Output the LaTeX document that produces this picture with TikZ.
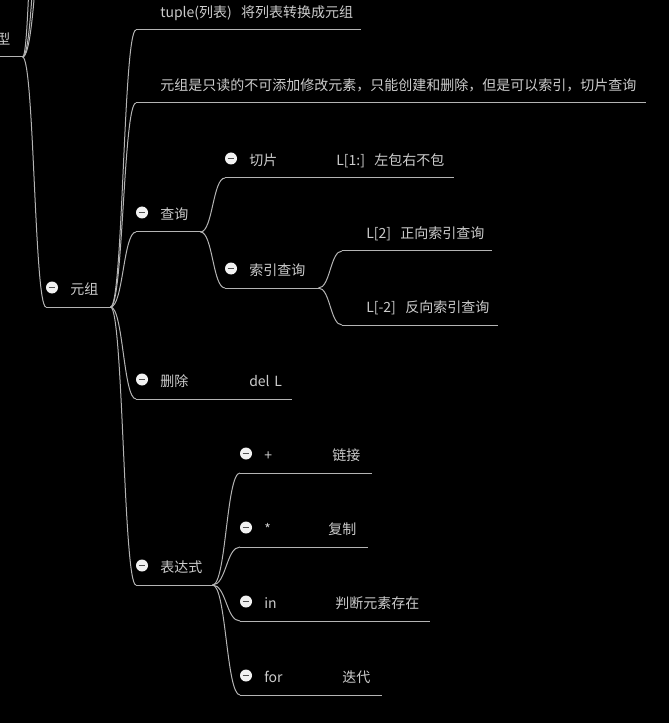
\documentclass[tikz,border=0pt]{standalone}
\usepackage{fontspec}
\newfontfamily\cjk{Noto Sans CJK SC}
\usetikzlibrary{calc}
\definecolor{txtgray}{HTML}{CCCCCC}
\definecolor{linegray}{HTML}{B4B4B4}
\definecolor{minusgray}{HTML}{505050}
\tikzset{
  link/.style={draw=linegray, line width=0.75pt},
  branch/.style={link, to path={.. controls ($(\tikztostart)!0.5!(\tikztostart-|\tikztotarget)$) and ($(\tikztotarget)!0.5!(\tikztotarget-|\tikztostart)$) .. (\tikztotarget)}},
  topic/.style={anchor=south west, text width=#1, align=left, inner xsep=0pt, inner ysep=2.3pt,
    text height=8pt, text depth=7.2pt, text=txtgray, font=\cjk\fontsize{10.5}{12}\selectfont,
    execute at begin node={\hspace*{18pt}},
    append after command={(\tikzlastnode.south west) edge[link] (\tikzlastnode.south east)}},
  foldmark/.style={circle, fill=white!95!black, inner sep=0pt, minimum size=9pt,
    path picture={\draw[minusgray, line width=1.1pt] ([xshift=-2.6pt]path picture bounding box.center) -- ([xshift=2.6pt]path picture bounding box.center);}},
  fold/.style={append after command={node[foldmark] at ([shift={(6,-19.5)}]\tikzlastnode.south west) {}}}
}
\begin{document}
\begin{tikzpicture}[x=0.75pt, y=-0.75pt]
\useasboundingbox (0,0) rectangle (669,723);
\fill[black] (0,0) rectangle (669,723);
\clip (0,0) rectangle (669,723);
% parent (cut off at the left edge)
\node[topic=37.5pt] (xing) at (-28,57) {型};
\coordinate (up1) at (36,-100);
\coordinate (up2) at (46,-140);
\coordinate (up3) at (52,-140);
\node[topic=48pt, fold] (yz) at (46,307) {元组};
% children of the tuple topic
\node[topic=168pt] (tup) at (136,30) {tuple(列表)~~将列表转换成元组};
\node[topic=381.75pt] (ro) at (136,103) {元组是只读的不可添加修改元素，只能创建和删除，但是可以索引，切片查询};
\node[topic=48pt, fold] (cx) at (136,232) {查询};
\node[topic=171pt, fold] (qp) at (225,178) {\makebox[65.25pt][l]{切片}L[1:]~~左包右不包};
\node[topic=69.75pt, fold] (sy) at (225,288) {索引查询};
\node[topic=111.75pt] (zx) at (342,251) {L[2]~~正向索引查询};
\node[topic=116.25pt] (fx) at (342,325) {L[-2]~~反向索引查询};
\node[topic=116.25pt, fold] (sc) at (136,399) {\makebox[66.75pt][l]{删除}del L};
\node[topic=57pt, fold] (bds) at (136,585) {表达式};
\node[topic=98.25pt, fold] (lj) at (240,473) {\makebox[51pt][l]{+}链接};
\node[topic=95.25pt, fold] (fz) at (240,547) {\makebox[48pt][l]{*}复制};
\node[topic=141.75pt, fold] (pd) at (240,621) {\makebox[53.25pt][l]{in}判断元素存在};
\node[topic=105.75pt, fold] (dd) at (240,695) {\makebox[58.5pt][l]{for}迭代};
% Branches
\draw[branch] (xing.south east) to (up1);
\draw[branch] (xing.south east) to (up2);
\draw[branch] (xing.south east) to (up3);
\draw[branch] (xing.south east) to (yz.south west);
\draw[branch] (yz.south east) to (tup.south west);
\draw[branch] (yz.south east) to (ro.south west);
\draw[branch] (yz.south east) to (cx.south west);
\draw[branch] (yz.south east) to (sc.south west);
\draw[branch] (yz.south east) to (bds.south west);
\draw[branch] (cx.south east) to (qp.south west);
\draw[branch] (cx.south east) to (sy.south west);
\draw[branch] (sy.south east) to (zx.south west);
\draw[branch] (sy.south east) to (fx.south west);
\draw[branch] (bds.south east) to (lj.south west);
\draw[branch] (bds.south east) to (fz.south west);
\draw[branch] (bds.south east) to (pd.south west);
\draw[branch] (bds.south east) to (dd.south west);
\end{tikzpicture}
\end{document}
